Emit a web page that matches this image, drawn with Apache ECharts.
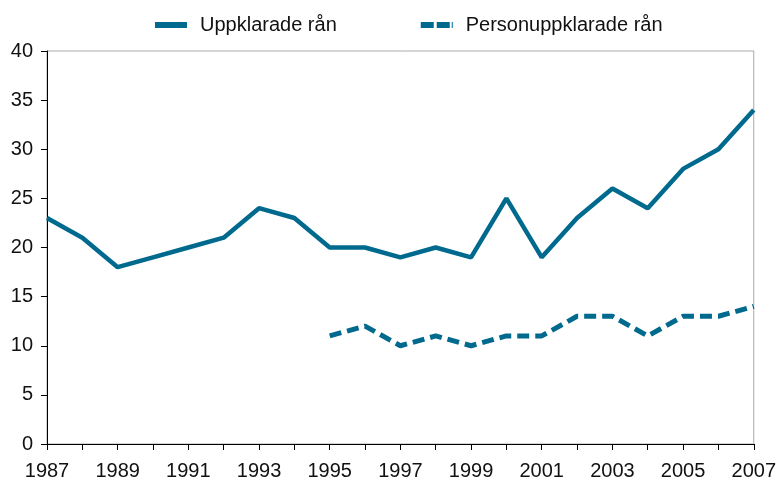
<!DOCTYPE html>
<html>
<head>
<meta charset="utf-8">
<script src="https://cdn.jsdelivr.net/npm/echarts@6/dist/echarts.min.js"></script>
<style>
  html, body { margin: 0; padding: 0; background: #fff; }
  #chart { width: 779px; height: 481px; }
</style>
</head>
<body>
<div id="chart"></div>
<script>
var years = ['1987','1988','1989','1990','1991','1992','1993','1994','1995','1996','1997',
  '1998','1999','2000','2001','2002','2003','2004','2005','2006','2007'];
var uppklarade = [23, 21, 18, 19, 20, 21, 24, 23, 20, 20, 19, 20, 19, 25, 19, 23, 26, 24, 28, 30, 34];
var personuppklarade = [null, null, null, null, null, null, null, null,
  11, 12, 10, 11, 10, 11, 11, 13, 13, 11, 13, 13, 14];
var yTicks = [0, 5, 10, 15, 20, 25, 30, 35, 40];

var blue = '#006a8e';
var font = 'Liberation Sans, Arial, sans-serif';

var myChart = echarts.init(document.getElementById('chart'));

// dashed legend symbol (two dashes and a stub)
var dashIcon = 'path://M0,0H13V6H0Z M16,0H29V6H16Z M31,0H32V6H31Z';

var option = {
  animation: false,
  legend: {
    top: 10,
    left: 150,
    itemWidth: 32,
    itemHeight: 6,
    itemGap: 84,
    textStyle: { fontFamily: font, fontSize: 20, color: '#111', padding: [0, 0, 0, 8] },
    data: [
      { name: 'Uppklarade rån', icon: 'rect' },
      { name: 'Personuppklarade rån', icon: dashIcon }
    ]
  },
  grid: {
    left: 47, right: 25, top: 51, bottom: 37,
    show: true, borderColor: '#aaa', borderWidth: 1
  },
  xAxis: {
    type: 'category',
    data: years,
    boundaryGap: false,
    axisLine: { lineStyle: { color: '#000', width: 1 } },
    axisTick: { show: true, interval: 0, length: 6, lineStyle: { color: '#000' } },
    axisLabel: {
      interval: 1, margin: 17,
      fontFamily: font, fontSize: 20, color: '#111'
    },
    splitLine: { show: false }
  },
  yAxis: {
    type: 'value',
    min: yTicks[0],
    max: yTicks[yTicks.length - 1],
    interval: 5,
    axisLine: { show: true, lineStyle: { color: '#000', width: 1 } },
    axisTick: { show: true, length: 6, lineStyle: { color: '#000' } },
    axisLabel: { margin: 14, fontFamily: font, fontSize: 20, color: '#111' },
    splitLine: { show: false }
  },
  series: [
    {
      name: 'Uppklarade rån',
      type: 'line',
      data: uppklarade,
      symbol: 'none',
      color: blue,
      lineStyle: { color: blue, width: 4.5 }
    },
    {
      name: 'Personuppklarade rån',
      type: 'line',
      data: personuppklarade,
      symbol: 'none',
      color: blue,
      lineStyle: { color: blue, width: 5, type: [12, 6] }
    }
  ]
};

myChart.setOption(option, true);
</script>
</body>
</html>
